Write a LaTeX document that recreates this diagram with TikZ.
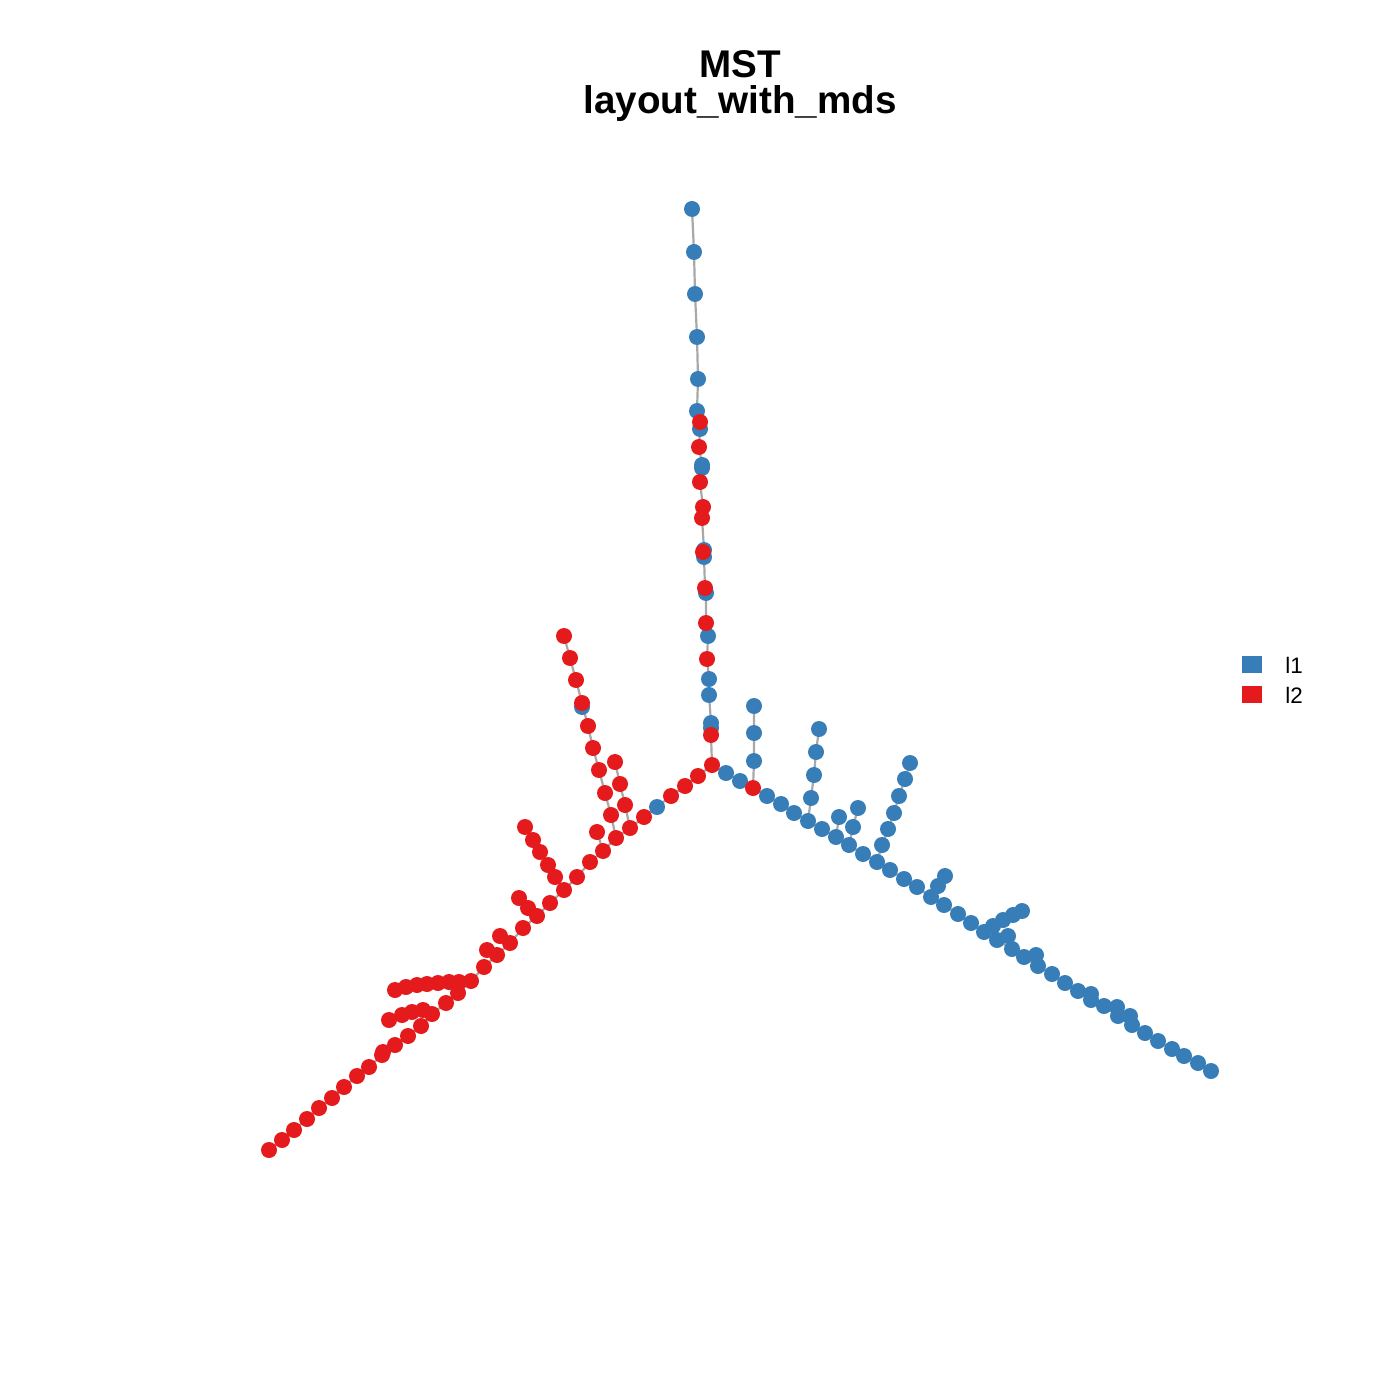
\documentclass[tikz,border=0pt]{standalone}
\usepackage{fontspec}
\setmainfont{Liberation Sans}
\definecolor{cblue}{HTML}{377EB8}
\definecolor{cred}{HTML}{E41A1C}
\definecolor{cedge}{HTML}{A8A8A8}
\tikzset{
  bdot/.style={circle,fill=cblue,draw=none,minimum size=8pt,inner sep=0pt},
  rdot/.style={circle,fill=cred,draw=none,minimum size=8pt,inner sep=0pt},
  edge/.style={draw=cedge,line width=1.1pt},
  ttl/.style={font=\bfseries\fontsize{19.3}{23}\selectfont,anchor=base},
  legtxt/.style={font=\fontsize{11.2}{13}\selectfont,anchor=base west,inner sep=0pt},
}
\begin{document}
\begin{tikzpicture}[x=0.5pt,y=-0.5pt]
\useasboundingbox (0,0) rectangle (1400,1400);
% ---------- coordinates ----------
% vertical branch
\foreach \n/\x/\y in {v1/692/209,v2/694/252,v3/695/294,v4/697/337,v5/698/379,v6/697/411,v7/700/422,v8/700/429,v9/699/447,v10/702/465,v11/702/468,v12/700/482,v13/703/507,v14/702/518,v15/704/550,v16/703/552,v17/704/557,v18/705/588,v19/706/593,v20/706/623,v21/708/636,v22/707/659,v23/709/679,v24/709/695,v25/711/723,v26/711/728,v27/711/735,h/712/765}
  \coordinate (\n) at (\x,\y);
% right main line
\foreach \n/\x/\y in {a1/726/773,a2/740/781,a3/753/788,a4/767/796,a5/781/804,a6/794/813,a7/808/821,a8/822/829,a9/836/837,a10/849/845,a11/863/854,a12/877/862,a13/890/870,a14/904/879,a15/917/887,a16/931/897,a17/944/905,a18/958/914,a19/971/923,a20/984/932,a21/997/940,a22/1012/949,a23/1024/957,a24/1038/966,a25/1052/974,a26/1065/983,a27/1078/991,a28/1091/1000,a29/1104/1006,a30/1118/1016,a31/1132/1025,a32/1145/1033,a33/1158/1041,a34/1172/1049,a35/1184/1056,a36/1198/1063,a37/1211/1071}
  \coordinate (\n) at (\x,\y);
% right side branches
\foreach \n/\x/\y in {c1/754/761,c2/754/733,c3/754/706,d1/811/798,d2/814/775,d3/816/752,d4/819/729,e1/839/817,f1/853/827,f2/858/808,g1/882/845,g2/888/829,g3/894/813,g4/899/796,g5/905/779,g6/910/763,k1/938/886,k2/945/876,m1/993/926,m2/1003/920,m3/1013/915,m4/1022/911,n1/1008/936,p1/1036/955,q1/1091/994,q2/1117/1007,q3/1130/1016}
  \coordinate (\n) at (\x,\y);
% left main line
\foreach \n/\x/\y in {l1/698/776,l2/685/786,l3/671/796,l4/657/807,l5/644/817,l6/630/828,l7/616/838,l8/603/851,l9/590/862,l10/577/877,l11/564/890,l12/550/903,l13/537/916,l14/523/928,l15/510/943,l16/497/955,l17/484/967,l18/471/981,l19/458/993,l20/446/1003,l21/432/1014,l22/421/1026,l23/408/1036,l24/395/1045,l25/383/1052,l26/382/1055,l27/369/1067,l28/357/1076,l29/344/1087,l30/332/1098,l31/319/1108,l32/307/1119,l33/294/1130,l34/282/1140,l35/269/1150}
  \coordinate (\n) at (\x,\y);
% left side branches
\foreach \n/\x/\y in {t1/625/805,t2/620/784,t3/615/762,u1/611/815,u2/605/793,u3/599/770,u4/593/748,u5/588/726,u6/582/703,u7/576/680,u8/570/658,u9/564/636,ub/582/707,w1/597/832,x1/555/877,x2/548/865,x3/540/852,x4/533/840,x5/525/827,y1/528/908,y2/519/898,z1/500/936,z2/487/950,r1/459/982,r2/449/982,r3/438/983,r4/427/984,r5/417/985,r6/406/987,r7/395/990,o1/423/1010,o2/412/1012,o3/402/1015,o4/389/1020}
  \coordinate (\n) at (\x,\y);
% ---------- edges ----------
\draw[edge] (v1)--(v2)--(v3)--(v4)--(v5)--(v6)--(v7)--(v8)--(v9)--(v10)--(v11)--(v12)--(v13)--(v14)--(v15)--(v16)--(v17)--(v18)--(v19)--(v20)--(v21)--(v22)--(v23)--(v24)--(v25)--(v26)--(v27)--(h);
\draw[edge] (h)--(a1)--(a2)--(a3)--(a4)--(a5)--(a6)--(a7)--(a8)--(a9)--(a10)--(a11)--(a12)--(a13)--(a14)--(a15)--(a16)--(a17)--(a18)--(a19)--(a20)--(a21)--(a22)--(a23)--(a24)--(a25)--(a26)--(a27)--(a28)--(a29)--(a30)--(a31)--(a32)--(a33)--(a34)--(a35)--(a36)--(a37);
\draw[edge] (a3)--(c1)--(c2)--(c3);
\draw[edge] (a7)--(d1)--(d2)--(d3)--(d4);
\draw[edge] (a9)--(e1);
\draw[edge] (a10)--(f1)--(f2);
\draw[edge] (a12)--(g1)--(g2)--(g3)--(g4)--(g5)--(g6);
\draw[edge] (a16)--(k1)--(k2);
\draw[edge] (a20)--(m1)--(m2)--(m3)--(m4);
\draw[edge] (a21)--(n1);
\draw[edge] (a23)--(p1);
\draw[edge] (a27)--(q1);
\draw[edge] (a29)--(q2);
\draw[edge] (a30)--(q3);
\draw[edge] (h)--(l1)--(l2)--(l3)--(l4)--(l5)--(l6)--(l7)--(l8)--(l9)--(l10)--(l11)--(l12)--(l13)--(l14)--(l15)--(l16)--(l17)--(l18)--(l19)--(l20)--(l21)--(l22)--(l23)--(l24)--(l25)--(l26)--(l27)--(l28)--(l29)--(l30)--(l31)--(l32)--(l33)--(l34)--(l35);
\draw[edge] (l6)--(t1)--(t2)--(t3);
\draw[edge] (l7)--(u1)--(u2)--(u3)--(u4)--(u5)--(u6)--(u7)--(u8)--(u9);
\draw[edge] (u6)--(ub);
\draw[edge] (l8)--(w1);
\draw[edge] (l11)--(x1)--(x2)--(x3)--(x4)--(x5);
\draw[edge] (l13)--(y1)--(y2);
\draw[edge] (l15)--(z1);
\draw[edge] (l16)--(z2);
\draw[edge] (l18)--(r1)--(r2)--(r3)--(r4)--(r5)--(r6)--(r7);
\draw[edge] (l21)--(o1)--(o2)--(o3)--(o4);
% ---------- vertices: blue ----------
\foreach \p in {v1,v2,v3,v4,v5,v6,v8,v10,v11,v15,v17,v19,v21,v23,v24,v25,v26,
  a1,a2,a4,a5,a6,a7,a8,a9,a10,a11,a12,a13,a14,a15,a16,a17,a18,a19,a20,a21,a22,a23,a24,a25,a26,a27,a28,a29,a30,a31,a32,a33,a34,a35,a36,a37,
  c1,c2,c3,d1,d2,d3,d4,e1,f1,f2,g1,g2,g3,g4,g5,g6,k1,k2,m1,m2,m3,m4,n1,p1,q1,q2,q3,l4,ub}
  \node[bdot] (n\p) at (\p) {};
% ---------- vertices: red ----------
\foreach \p in {v7,v9,v12,v13,v14,v16,v18,v20,v22,v27,h,a3,
  l1,l2,l3,l5,l6,l7,l8,l9,l10,l11,l12,l13,l14,l15,l16,l17,l18,l19,l20,l21,l22,l23,l24,l25,l26,l27,l28,l29,l30,l31,l32,l33,l34,l35,
  t1,t2,t3,u1,u2,u3,u4,u5,u6,u7,u8,u9,w1,x1,x2,x3,x4,x5,y1,y2,z1,z2,r1,r2,r3,r4,r5,r6,r7,o1,o2,o3,o4}
  \node[rdot] (n\p) at (\p) {};
% ---------- title ----------
\node[ttl] (title1) at (740,78) {MST};
\node[ttl] (title2) at (740,114) {layout\_with\_mds};
% ---------- legend ----------
\node[fill=cblue,minimum width=10pt,minimum height=8.5pt,inner sep=0pt] (lg1) at (1252,664.5) {};
\node[fill=cred,minimum width=10pt,minimum height=8.5pt,inner sep=0pt] (lg2) at (1252,694.5) {};
\node[legtxt] (lt1) at (1285,673) {l1};
\node[legtxt] (lt2) at (1285,703) {l2};
\end{tikzpicture}
\end{document}
